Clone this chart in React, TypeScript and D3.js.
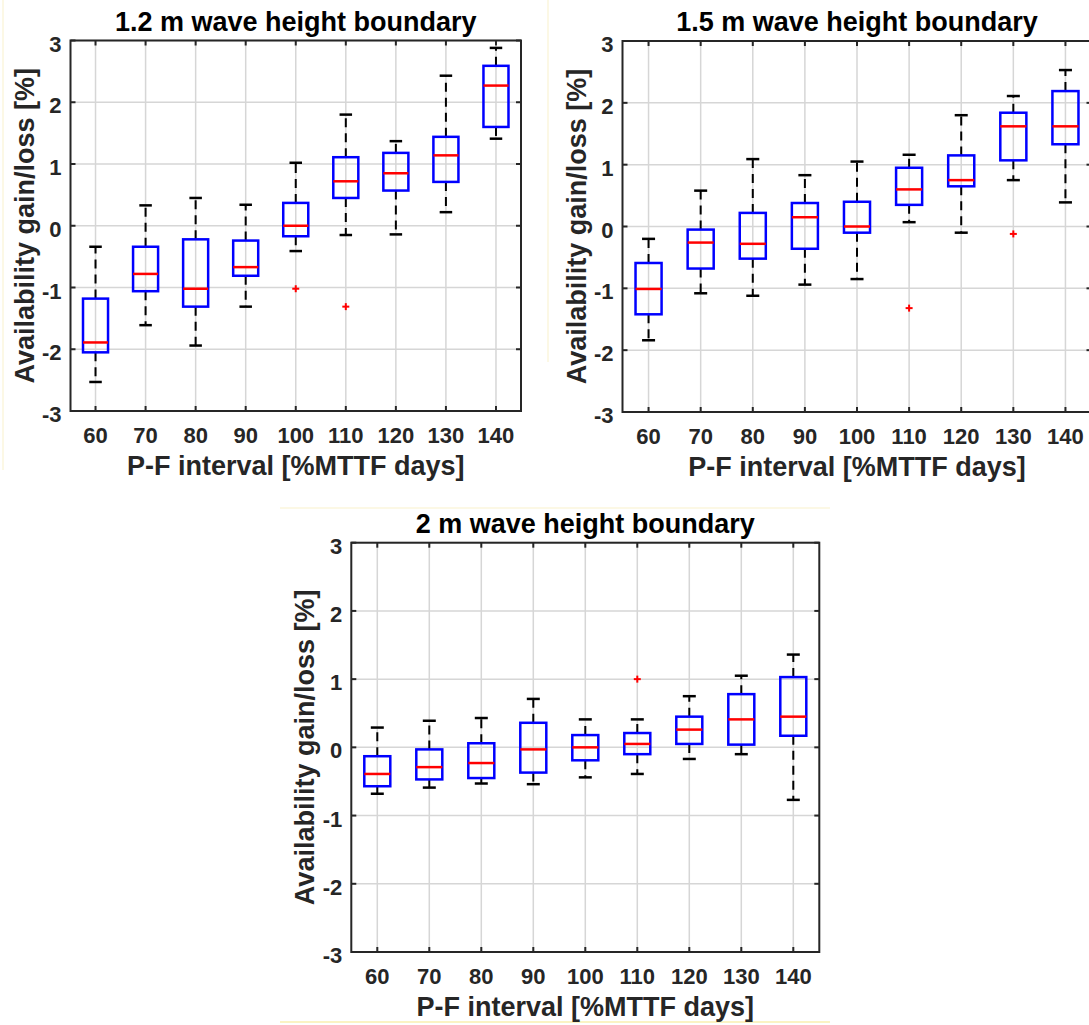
import React from 'react';
import * as d3 from 'd3';

// ---------- data ----------
const categories = ['60', '70', '80', '90', '100', '110', '120', '130', '140'];
const yTicks = [-3, -2, -1, 0, 1, 2, 3];

// 1.2 m wave height boundary
const p12Low = [-2.53, -1.61, -1.94, -1.31, -0.41, -0.15, -0.14, 0.22, 1.41];
const p12Q1 = [-2.05, -1.06, -1.31, -0.81, -0.17, 0.45, 0.57, 0.71, 1.6];
const p12Med = [-1.89, -0.78, -1.02, -0.67, 0.0, 0.72, 0.85, 1.14, 2.27];
const p12Q3 = [-1.18, -0.34, -0.22, -0.24, 0.37, 1.11, 1.18, 1.44, 2.59];
const p12High = [-0.34, 0.33, 0.45, 0.34, 1.02, 1.8, 1.37, 2.43, 2.88];
const p12OutCat = ['100', '110'];
const p12OutVal = [-1.02, -1.31];

// 1.5 m wave height boundary
const p15Low = [-1.84, -1.08, -1.12, -0.94, -0.85, 0.07, -0.1, 0.75, 0.39];
const p15Q1 = [-1.42, -0.68, -0.52, -0.36, -0.1, 0.35, 0.65, 1.07, 1.33];
const p15Med = [-1.01, -0.26, -0.28, 0.15, 0.0, 0.6, 0.75, 1.62, 1.62];
const p15Q3 = [-0.59, -0.05, 0.22, 0.38, 0.4, 0.95, 1.15, 1.84, 2.19];
const p15High = [-0.2, 0.58, 1.09, 0.83, 1.05, 1.16, 1.8, 2.11, 2.53];
const p15OutCat = ['110', '130'];
const p15OutVal = [-1.32, -0.12];

// 2 m wave height boundary
const p2Low = [-0.68, -0.59, -0.53, -0.54, -0.44, -0.39, -0.17, -0.1, -0.77];
const p2Q1 = [-0.57, -0.47, -0.45, -0.37, -0.19, -0.1, 0.05, 0.04, 0.17];
const p2Med = [-0.39, -0.29, -0.23, -0.03, 0.0, 0.05, 0.26, 0.41, 0.45];
const p2Q3 = [-0.13, -0.03, 0.06, 0.36, 0.18, 0.21, 0.45, 0.78, 1.03];
const p2High = [0.29, 0.39, 0.43, 0.71, 0.41, 0.41, 0.75, 1.05, 1.36];
const p2OutCat = ['110'];
const p2OutVal = [1.0];

const xLabel = 'P-F interval [%MTTF days]';
const yLabel = 'Availability gain/loss [%]';

const FONT = '"Liberation Sans", Arial, Helvetica, sans-serif';
const AXIS_COLOR = '#262626';

type PanelProps = {
  title: string;
  low: number[];
  q1: number[];
  med: number[];
  q3: number[];
  high: number[];
  outCat: string[];
  outVal: number[];
  left: number;
  right: number;
  top: number;
  bottom: number;
};

function BoxPanel(p: PanelProps) {
  const x = d3.scalePoint<string>().domain(categories).range([p.left, p.right]).padding(0.5);
  const y = d3.scaleLinear().domain([-3, 3]).range([p.bottom, p.top]);
  const step = x.step();
  const bw = step * 0.5;
  const cw = step * 0.25;
  const tick = 5;
  const cx = (p.left + p.right) / 2;
  const cy = (p.top + p.bottom) / 2;

  return (
    <g>
      {/* grid */}
      {categories.map((c) => (
        <line key={'gx' + c} x1={x(c)} x2={x(c)} y1={p.top} y2={p.bottom} stroke="#d6d6d6" strokeWidth={1.5} />
      ))}
      {yTicks.map((t) => (
        <line key={'gy' + t} x1={p.left} x2={p.right} y1={y(t)} y2={y(t)} stroke="#d6d6d6" strokeWidth={1.5} />
      ))}

      {/* boxes */}
      {categories.map((c, i) => {
        const xc = x(c) as number;
        return (
          <g key={'b' + c}>
            <line x1={xc} x2={xc} y1={y(p.q3[i])} y2={y(p.high[i])} stroke="#000" strokeWidth={2} strokeDasharray="9,6" />
            <line x1={xc} x2={xc} y1={y(p.q1[i])} y2={y(p.low[i])} stroke="#000" strokeWidth={2} strokeDasharray="9,6" />
            <line x1={xc - cw / 2} x2={xc + cw / 2} y1={y(p.high[i])} y2={y(p.high[i])} stroke="#000" strokeWidth={2.5} />
            <line x1={xc - cw / 2} x2={xc + cw / 2} y1={y(p.low[i])} y2={y(p.low[i])} stroke="#000" strokeWidth={2.5} />
            <rect
              x={xc - bw / 2}
              y={y(p.q3[i])}
              width={bw}
              height={y(p.q1[i]) - y(p.q3[i])}
              fill="none"
              stroke="#0000ff"
              strokeWidth={2.5}
            />
            <line x1={xc - bw / 2} x2={xc + bw / 2} y1={y(p.med[i])} y2={y(p.med[i])} stroke="#ff0000" strokeWidth={2.5} />
          </g>
        );
      })}

      {/* outliers */}
      {p.outCat.map((c, i) => {
        const xc = x(c) as number;
        const yc = y(p.outVal[i]);
        return (
          <g key={'o' + i} stroke="#ff0000" strokeWidth={2}>
            <line x1={xc - 3.5} x2={xc + 3.5} y1={yc} y2={yc} />
            <line x1={xc} x2={xc} y1={yc - 3.5} y2={yc + 3.5} />
          </g>
        );
      })}

      {/* frame and ticks */}
      <rect x={p.left} y={p.top} width={p.right - p.left} height={p.bottom - p.top} fill="none" stroke={AXIS_COLOR} strokeWidth={2} />
      {categories.map((c) => (
        <g key={'tx' + c} stroke={AXIS_COLOR} strokeWidth={2}>
          <line x1={x(c)} x2={x(c)} y1={p.bottom} y2={p.bottom - tick} />
          <line x1={x(c)} x2={x(c)} y1={p.top} y2={p.top + tick} />
        </g>
      ))}
      {yTicks.map((t) => (
        <g key={'ty' + t} stroke={AXIS_COLOR} strokeWidth={2}>
          <line x1={p.left} x2={p.left + tick} y1={y(t)} y2={y(t)} />
          <line x1={p.right} x2={p.right - tick} y1={y(t)} y2={y(t)} />
        </g>
      ))}

      {/* tick labels */}
      {categories.map((c) => (
        <text key={'lx' + c} x={x(c)} y={p.bottom + 32} textAnchor="middle" fontSize={22} fontWeight="bold" fill={AXIS_COLOR} fontFamily={FONT}>
          {c}
        </text>
      ))}
      {yTicks.map((t) => (
        <text key={'ly' + t} x={p.left - 9} y={y(t) + 11} textAnchor="end" fontSize={22} fontWeight="bold" fill={AXIS_COLOR} fontFamily={FONT}>
          {t}
        </text>
      ))}

      {/* labels */}
      <text x={cx} y={p.top - 10} textAnchor="middle" fontSize={27} fontWeight="bold" fill="#000" fontFamily={FONT}>
        {p.title}
      </text>
      <text x={cx} y={p.bottom + 64} textAnchor="middle" fontSize={27} fontWeight="bold" fill={AXIS_COLOR} fontFamily={FONT}>
        {xLabel}
      </text>
      <text
        transform={`translate(${p.left - 37},${cy}) rotate(-90)`}
        textAnchor="middle"
        fontSize={27}
        fontWeight="bold"
        fill={AXIS_COLOR}
        fontFamily={FONT}
      >
        {yLabel}
      </text>
    </g>
  );
}

export default function App() {
  return (
    <svg
      width={1089}
      height={1025}
      style={{ position: 'absolute', left: 0, top: 0, background: '#fff' }}
      xmlns="http://www.w3.org/2000/svg"
    >
      <rect x={0} y={0} width={1089} height={1025} fill="#fff" />
      {/* faint figure edges */}
      <line x1={3} x2={3} y1={0} y2={470} stroke="#fbf6dc" strokeWidth={1.5} />
      <line x1={548} x2={548} y1={0} y2={362} stroke="#fbf6dc" strokeWidth={1.5} />
      <line x1={280} x2={830} y1={508} y2={508} stroke="#fbf6dc" strokeWidth={1.5} />
      <line x1={280} x2={830} y1={1022} y2={1022} stroke="#fbf3c4" strokeWidth={2} />

      <BoxPanel
        title="1.2 m wave height boundary"
        low={p12Low}
        q1={p12Q1}
        med={p12Med}
        q3={p12Q3}
        high={p12High}
        outCat={p12OutCat}
        outVal={p12OutVal}
        left={70.5}
        right={521}
        top={40.5}
        bottom={411}
      />
      <BoxPanel
        title="1.5 m wave height boundary"
        low={p15Low}
        q1={p15Q1}
        med={p15Med}
        q3={p15Q3}
        high={p15High}
        outCat={p15OutCat}
        outVal={p15OutVal}
        left={622.5}
        right={1091.5}
        top={41}
        bottom={412}
      />
      <BoxPanel
        title="2 m wave height boundary"
        low={p2Low}
        q1={p2Q1}
        med={p2Med}
        q3={p2Q3}
        high={p2High}
        outCat={p2OutCat}
        outVal={p2OutVal}
        left={351.3}
        right={819.3}
        top={542.7}
        bottom={952}
      />
    </svg>
  );
}
